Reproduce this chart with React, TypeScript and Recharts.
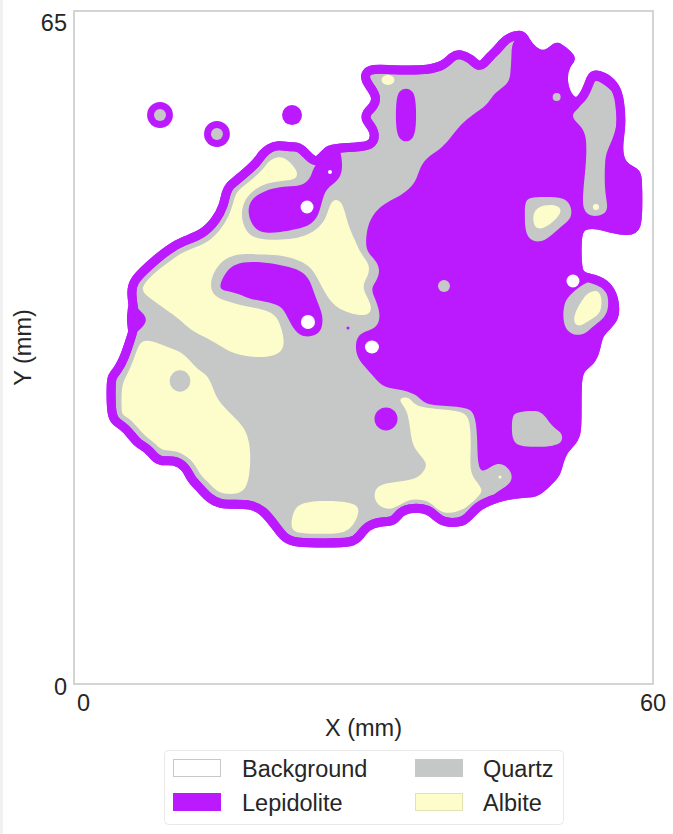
import React from 'react';
import { ScatterChart, Scatter, XAxis, YAxis, ReferenceArea, Legend } from 'recharts';

type Pt = [number, number];
type Blob = { x: number; y: number; rx: number; ry: number };

const FONT = '"Liberation Sans", Arial, Helvetica, sans-serif';
const TEXT = '#262626';
const LEPIDOLITE = '#BB19FE';
const QUARTZ = '#C5C8C7';
const ALBITE = '#FDFDCB';
const BACKGROUND = '#FFFFFF';

const xDomain: [number, number] = [-1, 60];
const yDomain: [number, number] = [0, 66.3];
const xTicks = [0, 60];
const yTicks = [0, 65];
const xLabel = 'X (mm)';
const yLabel = 'Y (mm)';

const legendNames = ['Background', 'Lepidolite', 'Quartz', 'Albite'];
const legendFills = [BACKGROUND, LEPIDOLITE, QUARTZ, ALBITE];
const legendEdges = ['#c8c8c8', LEPIDOLITE, QUARTZ, '#e2e2b5'];

// outer grain boundary (centre line of the lepidolite rim), mm
const grainOutline: Pt[] = [
  [46.0, 64.0], [44.8, 63.7], [44.2, 63.2], [43.6, 62.5], [42.8, 61.8], [42.2, 61.1], [41.6, 60.8], [40.8, 61.6],
  [39.7, 62.1], [38.9, 61.9], [38.0, 60.9], [36.2, 60.5], [34.4, 60.5], [32.6, 60.5], [31.2, 60.6], [30.1, 60.5],
  [29.7, 60.1], [29.7, 59.5], [30.3, 58.7], [30.9, 57.8], [30.6, 56.9], [29.8, 56.3], [29.7, 55.6], [30.3, 55.0],
  [30.8, 54.0], [30.3, 53.0], [28.8, 52.9], [26.7, 52.8], [25.8, 52.6], [25.4, 52.2], [24.6, 51.4], [24.0, 51.7],
  [23.3, 52.4], [22.7, 52.9], [22.0, 52.9], [20.4, 53.1], [19.6, 52.8], [18.9, 52.3], [18.3, 51.4], [17.1, 50.4],
  [16.1, 49.6], [15.4, 49.1], [15.0, 48.4], [14.8, 47.2], [14.0, 45.7], [12.6, 44.3], [10.4, 43.6], [9.1, 42.9],
  [7.6, 41.8], [6.3, 40.7], [5.3, 39.7], [5.0, 38.7], [5.3, 36.8], [5.5, 35.6], [5.0, 34.1], [4.3, 32.1],
  [3.6, 30.9], [3.0, 30.3], [2.9, 29.6], [2.9, 27.0], [3.2, 25.9], [4.2, 25.4], [4.9, 24.7], [5.7, 23.7],
  [6.8, 23.2], [7.5, 22.3], [8.2, 21.9], [9.5, 22.1], [10.8, 21.4], [11.3, 20.2], [12.3, 19.3], [13.2, 18.3],
  [14.4, 17.7], [16.0, 17.7], [17.5, 17.7], [18.9, 17.2], [20.3, 15.5], [21.2, 14.3], [22.5, 13.9], [25.4, 13.9],
  [28.4, 13.9], [29.1, 14.6], [29.9, 15.6], [31.2, 16.0], [32.8, 16.0], [33.3, 17.0], [34.7, 17.4], [36.4, 17.2],
  [37.1, 16.5], [38.0, 15.9], [39.7, 15.9], [40.4, 16.3], [41.5, 17.5], [42.8, 18.1], [44.6, 18.6], [46.3, 18.8],
  [47.6, 18.8], [48.5, 19.5], [49.1, 20.1], [49.8, 20.7], [50.1, 21.9], [50.5, 23.0], [51.6, 24.0], [52.0, 24.8],
  [52.0, 27.3], [52.0, 29.9], [52.3, 31.1], [53.5, 31.8], [54.0, 33.0], [54.2, 34.4], [55.2, 35.3], [55.9, 36.1],
  [56.0, 36.8], [55.9, 37.9], [55.5, 38.8], [54.9, 39.4], [54.3, 39.7], [53.4, 40.0], [52.0, 40.2], [52.0, 42.8],
  [52.0, 45.3], [54.4, 45.3], [55.8, 44.8], [57.3, 44.6], [58.4, 44.8], [58.4, 47.6], [58.4, 50.4], [57.8, 50.5],
  [56.5, 51.3], [56.3, 53.1], [56.7, 55.1], [56.5, 57.5], [56.1, 58.8], [55.0, 59.8], [53.8, 60.1], [53.5, 59.8],
  [53.0, 58.4], [52.1, 57.1], [51.0, 57.7], [50.4, 59.5], [50.8, 61.1], [51.5, 61.6], [50.9, 62.1], [50.0, 62.8],
  [49.7, 62.7], [48.9, 62.0], [47.9, 62.0], [46.9, 62.8], [46.4, 63.7],
];

// large lepidolite domain on the east side
const lepidoliteMain: Pt[] = [
  [45.1, 61.8], [45.0, 60.5], [44.9, 59.3], [43.9, 58.6], [43.1, 58.0], [42.5, 57.0], [41.0, 56.1], [39.7, 55.1],
  [38.6, 53.7], [37.6, 52.7], [36.5, 52.1], [35.5, 51.1], [35.1, 49.7], [34.4, 48.8], [33.0, 47.9], [31.6, 47.3],
  [30.4, 46.2], [29.8, 44.7], [29.7, 42.8], [30.4, 42.1], [31.1, 41.3], [31.2, 40.4], [30.7, 39.5], [30.3, 38.9],
  [30.7, 38.0], [31.2, 36.8], [31.2, 35.6], [30.5, 34.9], [29.1, 34.6], [28.6, 33.6], [28.8, 32.1], [29.9, 31.0],
  [31.0, 29.8], [31.7, 29.2], [33.7, 29.0], [35.1, 28.5], [35.7, 27.8], [36.8, 27.4], [40.4, 27.3], [41.2, 26.7],
  [41.5, 24.7], [41.5, 21.4], [42.1, 20.8], [43.1, 21.6], [44.2, 21.8], [45.2, 20.8], [45.1, 19.8], [43.9, 19.1],
  [42.8, 18.4], [44.6, 18.6], [46.3, 18.8], [47.6, 18.8], [48.5, 19.5], [49.1, 20.1], [49.8, 20.7], [50.1, 21.9],
  [50.5, 23.0], [51.6, 24.0], [52.0, 24.8], [52.0, 27.3], [52.0, 29.9], [52.3, 31.1], [53.5, 31.8], [54.0, 33.0],
  [54.2, 34.4], [55.2, 35.3], [55.9, 36.1], [56.0, 36.8], [55.9, 37.9], [55.5, 38.8], [54.9, 39.4], [54.3, 39.7],
  [53.4, 40.0], [52.0, 40.2], [52.0, 42.8], [52.0, 45.3], [54.4, 45.3], [55.8, 44.8], [57.3, 44.6], [58.4, 44.8],
  [58.4, 47.6], [58.4, 50.4], [57.8, 50.5], [56.5, 51.3], [56.3, 53.1], [56.7, 55.1], [56.5, 57.5], [56.1, 58.8],
  [55.0, 59.8], [53.8, 60.1], [53.5, 59.8], [53.0, 58.4], [52.1, 57.1], [51.0, 57.7], [50.4, 59.5], [50.8, 61.1],
  [51.5, 61.6], [50.9, 62.1], [50.0, 62.8], [49.7, 62.7], [48.9, 62.0], [47.9, 62.0], [46.9, 62.8], [46.4, 63.7],
  [46.0, 64.0], [45.1, 63.2],
];

const lepidoliteUpper: Pt[] = [
  [24.3, 51.1], [25.1, 51.6], [25.8, 52.6], [27.0, 52.9], [27.2, 51.8], [27.3, 50.6], [26.8, 49.5], [25.5, 48.8],
  [25.1, 47.4], [24.7, 46.0], [23.9, 45.2], [22.5, 44.8], [20.7, 44.5], [19.1, 44.4], [18.1, 44.8], [17.5, 45.7],
  [17.3, 46.9], [17.8, 47.9], [19.1, 48.6], [20.7, 49.0], [22.3, 49.0], [23.4, 49.3], [24.0, 50.0],
];

const lepidoliteMiddle: Pt[] = [
  [14.2, 38.9], [14.7, 40.1], [15.4, 41.1], [16.8, 41.6], [18.6, 41.6], [20.7, 41.3], [22.6, 40.9], [23.7, 40.1],
  [24.2, 38.8], [24.7, 37.5], [25.2, 36.4], [25.2, 35.2], [24.7, 34.4], [23.3, 34.1], [22.3, 34.7], [21.5, 36.1],
  [20.9, 37.3], [19.1, 37.7], [17.5, 37.9], [16.5, 38.4], [15.2, 38.7],
];

const lepidoliteBulge: Pt[] = [
  [4.8, 38.0], [5.5, 37.2], [6.3, 36.5], [6.7, 35.9], [6.3, 35.2], [5.4, 34.5], [4.7, 34.3], [4.5, 36.1],
];

const lepidoliteCapsule: Pt[] = [
  [33.98, 58.75], [34.75, 58.45], [35.05, 57.3], [35.05, 54.8], [34.75, 53.7], [33.98, 53.35], [33.2, 53.7],
  [32.9, 54.8], [32.9, 57.3], [33.2, 58.45],
];

const quartzNorthEast: Pt[] = [
  [54.1, 59.5], [54.9, 59.0], [56.0, 58.2], [56.3, 57.2], [56.2, 54.9], [55.7, 53.6], [55.2, 52.6], [54.9, 51.6],
  [54.9, 48.4], [55.3, 47.0], [54.9, 46.2], [53.4, 46.0], [52.6, 46.7], [52.6, 48.4], [53.0, 51.6], [53.0, 53.9],
  [52.5, 54.9], [51.6, 55.6], [51.5, 56.2], [52.1, 56.6], [53.0, 57.8], [53.4, 58.8], [53.7, 59.3],
];

const quartzEast: Pt[] = [
  [46.5, 47.7], [47.4, 48.0], [49.9, 48.0], [51.0, 47.7], [51.5, 46.7], [51.3, 45.7], [50.2, 45.0], [49.1, 44.0],
  [48.1, 43.5], [47.0, 43.7], [46.5, 44.7], [46.5, 46.4],
];

const quartzSouthEast: Pt[] = [
  [50.9, 38.0], [51.8, 38.8], [52.8, 39.5], [54.2, 39.9], [54.9, 39.3], [55.3, 38.1], [55.3, 36.8], [54.7, 35.9],
  [53.6, 35.2], [52.9, 34.5], [51.9, 34.3], [50.8, 34.8], [50.5, 36.1], [50.6, 37.2],
];

const quartzSouth: Pt[] = [
  [45.7, 26.8], [47.8, 27.0], [48.6, 26.5], [49.4, 25.3], [50.4, 24.8], [50.5, 24.0], [49.9, 23.4], [46.3, 23.3],
  [45.2, 23.8], [45.1, 25.3], [45.2, 26.5],
];

const albiteWest: Pt[] = [
  [21.1, 51.9], [22.0, 51.2], [22.6, 50.4], [22.4, 49.7], [21.2, 49.6], [19.4, 49.4], [18.1, 48.8], [17.0, 47.8],
  [16.6, 46.5], [16.8, 45.2], [17.5, 44.1], [19.1, 43.7], [21.8, 43.8], [23.3, 44.1], [24.5, 44.7], [25.5, 45.7],
  [25.9, 47.1], [26.4, 47.8], [27.1, 47.6], [27.5, 46.7], [27.8, 45.5], [28.2, 44.5], [28.7, 43.5], [29.2, 42.4],
  [30.2, 41.3], [30.0, 40.2], [29.3, 39.2], [29.9, 38.1], [30.4, 37.1], [30.1, 36.4], [29.2, 36.3], [28.1, 36.5],
  [26.6, 37.1], [25.7, 38.1], [24.9, 39.5], [24.1, 41.0], [22.8, 41.7], [21.2, 42.2], [19.1, 42.3], [17.0, 42.4],
  [15.6, 42.2], [14.6, 41.7], [13.7, 40.6], [13.3, 39.3], [13.7, 38.2], [15.1, 37.7], [17.0, 37.2], [19.1, 36.9],
  [20.4, 36.3], [20.9, 34.9], [21.2, 33.6], [20.8, 32.6], [19.6, 32.2], [17.5, 32.2], [15.7, 32.6], [14.6, 33.2],
  [13.0, 34.1], [11.2, 34.9], [10.2, 35.9], [8.8, 36.8], [7.5, 37.7], [6.4, 38.4], [6.1, 39.1], [7.0, 40.1],
  [8.3, 41.1], [9.7, 42.1], [11.0, 42.8], [13.1, 43.4], [14.7, 45.0], [15.6, 46.7], [15.9, 48.0], [16.3, 48.6],
  [16.9, 49.1], [17.9, 49.8], [19.0, 50.8], [19.6, 51.6], [20.3, 51.9],
];

const albiteSouthWest: Pt[] = [
  [6.1, 33.9], [7.3, 33.8], [8.8, 33.2], [10.2, 32.8], [11.2, 31.9], [12.0, 31.0], [13.0, 30.5], [13.6, 29.3],
  [14.1, 28.0], [15.1, 27.0], [16.2, 26.0], [17.1, 25.0], [17.5, 23.7], [17.6, 22.2], [17.5, 20.8], [17.2, 19.3],
  [16.3, 18.7], [14.7, 18.7], [13.9, 19.1], [13.0, 20.0], [12.2, 20.7], [11.5, 22.1], [9.7, 23.1], [8.3, 22.9],
  [7.5, 23.8], [6.5, 24.4], [5.6, 25.4], [4.8, 26.2], [4.1, 26.5], [4.0, 27.0], [4.0, 29.5], [4.5, 30.3],
  [5.2, 31.7], [5.6, 32.9],
];

const albiteSouth: Pt[] = [
  [22.5, 17.8], [25.2, 18.1], [28.4, 17.9], [29.1, 17.3], [28.8, 16.2], [27.8, 14.8], [25.1, 14.8], [22.5, 14.8],
  [21.8, 15.4], [22.0, 16.6],
];

const albiteSouthCentral: Pt[] = [
  [33.3, 28.2], [34.4, 28.3], [34.9, 27.3], [37.3, 27.1], [39.7, 26.9], [40.6, 26.4], [40.8, 24.7], [40.8, 22.9],
  [40.7, 21.1], [41.2, 20.1], [42.2, 19.1], [41.5, 18.4], [40.3, 17.3], [38.9, 16.8], [37.6, 16.9], [36.8, 17.7],
  [35.8, 18.2], [34.1, 18.2], [32.6, 17.1], [31.2, 17.4], [30.5, 18.4], [30.9, 19.6], [32.6, 19.9], [35.1, 20.1],
  [36.0, 21.1], [36.2, 21.8], [35.2, 22.8], [34.6, 23.7], [34.4, 25.3], [34.1, 27.0], [33.4, 27.7],
];

const albiteEast: Pt[] = [
  [47.7, 47.1], [49.9, 47.3], [50.5, 46.6], [49.6, 45.6], [48.4, 44.8], [47.5, 44.9], [47.3, 46.0],
];

const albiteSouthEast: Pt[] = [
  [53.1, 38.5], [54.1, 38.9], [54.6, 38.2], [54.6, 37.0], [54.2, 36.3], [53.4, 35.9], [52.5, 35.3], [51.8, 35.3],
  [51.6, 36.1], [52.1, 37.2], [52.7, 38.0],
];

// small rounded grains: centre and radii in mm
const lepidoliteDots: Blob[] = [
  { x: 8.06, y: 56.05, rx: 1.36, ry: 1.28 },
  { x: 14.06, y: 54.18, rx: 1.36, ry: 1.28 },
  { x: 21.97, y: 56.05, rx: 1.05, ry: 0.99 },
  { x: 31.87, y: 26.11, rx: 1.21, ry: 1.13 },
  { x: 27.87, y: 35.07, rx: 0.16, ry: 0.15 },
];
const quartzDots: Blob[] = [
  { x: 8.06, y: 56.05, rx: 0.63, ry: 0.59 },
  { x: 14.06, y: 54.18, rx: 0.63, ry: 0.59 },
  { x: 49.85, y: 57.83, rx: 0.42, ry: 0.39 },
  { x: 37.98, y: 39.21, rx: 0.63, ry: 0.59 },
  { x: 10.17, y: 29.85, rx: 1.1, ry: 1.05 },
];
const albiteDots: Blob[] = [
  { x: 32.08, y: 59.5, rx: 0.68, ry: 0.49 },
  { x: 53.99, y: 46.99, rx: 0.32, ry: 0.3 },
  { x: 43.88, y: 20.39, rx: 0.16, ry: 0.15 },
];
const backgroundHoles: Blob[] = [
  { x: 23.55, y: 46.99, rx: 0.68, ry: 0.64 },
  { x: 25.97, y: 50.44, rx: 0.21, ry: 0.2 },
  { x: 23.65, y: 35.66, rx: 0.74, ry: 0.69 },
  { x: 30.39, y: 33.2, rx: 0.74, ry: 0.64 },
  { x: 51.57, y: 39.7, rx: 0.68, ry: 0.64 },
];

type Layer = { name: string; pts: Pt[]; fill: string; stroke?: string; width?: number };

const polygonLayers: Layer[] = [
  { name: 'grain', pts: grainOutline, fill: QUARTZ, stroke: LEPIDOLITE, width: 9 },
  { name: 'lepBulge', pts: lepidoliteBulge, fill: LEPIDOLITE },
  { name: 'lepMain', pts: lepidoliteMain, fill: LEPIDOLITE },
  { name: 'lepUpper', pts: lepidoliteUpper, fill: LEPIDOLITE },
  { name: 'lepMiddle', pts: lepidoliteMiddle, fill: LEPIDOLITE },
  { name: 'lepCapsule', pts: lepidoliteCapsule, fill: LEPIDOLITE },
  { name: 'qzNE', pts: quartzNorthEast, fill: QUARTZ },
  { name: 'qzE', pts: quartzEast, fill: QUARTZ },
  { name: 'qzSE', pts: quartzSouthEast, fill: QUARTZ },
  { name: 'qzS', pts: quartzSouth, fill: QUARTZ },
  { name: 'abW', pts: albiteWest, fill: ALBITE },
  { name: 'abSW', pts: albiteSouthWest, fill: ALBITE },
  { name: 'abS', pts: albiteSouth, fill: ALBITE },
  { name: 'abSC', pts: albiteSouthCentral, fill: ALBITE },
  { name: 'abE', pts: albiteEast, fill: ALBITE },
  { name: 'abSE', pts: albiteSouthEast, fill: ALBITE },
  { name: 'grainEdge', pts: grainOutline, fill: 'none', stroke: LEPIDOLITE, width: 9 },
];

const blobLayers: { name: string; blobs: Blob[]; fill: string }[] = [
  { name: 'lepDot', blobs: lepidoliteDots, fill: LEPIDOLITE },
  { name: 'qzDot', blobs: quartzDots, fill: QUARTZ },
  { name: 'abDot', blobs: albiteDots, fill: ALBITE },
  { name: 'hole', blobs: backgroundHoles, fill: BACKGROUND },
];

const toPoints = (pts: Pt[]) => pts.map(([x, y]) => ({ x, y }));
const blobBox = (b: Blob) => [
  { x: b.x - b.rx, y: b.y - b.ry },
  { x: b.x + b.rx, y: b.y + b.ry },
];
const noSymbol = () => <g />;

const ellipseLine = (color: string) => (props: any) => {
  const pts = (props && props.points) || [];
  if (pts.length < 2) return <g />;
  const a = pts[0];
  const b = pts[1];
  return (
    <ellipse
      cx={(a.x + b.x) / 2}
      cy={(a.y + b.y) / 2}
      rx={Math.abs(b.x - a.x) / 2}
      ry={Math.abs(b.y - a.y) / 2}
      fill={color}
      stroke="none"
    />
  );
};

const renderXTick = (props: any) => {
  const { x, y, payload } = props;
  return (
    <text x={x} y={y + 27} textAnchor="middle" fontSize={23.5} fontFamily={FONT} fill={TEXT}>
      {payload.value}
    </text>
  );
};

const renderYTick = (props: any) => {
  const { x, y, payload } = props;
  const dy = payload.value === 0 ? 11 : 6.5;
  return (
    <text x={x - 7} y={y + dy} textAnchor="end" fontSize={23.5} fontFamily={FONT} fill={TEXT}>
      {payload.value}
    </text>
  );
};

const renderXLabel = (props: any) => {
  const vb = (props && props.viewBox) || { x: 74, y: 684, width: 579, height: 40 };
  return (
    <text x={vb.x + vb.width / 2} y={vb.y + 52} textAnchor="middle" fontSize={23.5} fontFamily={FONT} fill={TEXT}>
      {xLabel}
    </text>
  );
};

const renderYLabel = (props: any) => {
  const vb = (props && props.viewBox) || { x: 0, y: 11, width: 74, height: 673 };
  const cx = vb.x + 31;
  const cy = vb.y + vb.height / 2;
  return (
    <text x={cx} y={cy} transform={`rotate(-90 ${cx} ${cy})`} textAnchor="middle" fontSize={23.5} fontFamily={FONT} fill={TEXT}>
      {yLabel}
    </text>
  );
};

const renderLegend = () => (
  <svg width={400} height={75} style={{ display: 'block', overflow: 'visible' }}>
    <rect x={0.5} y={0.5} width={399} height={74} rx={4} ry={4} fill="#ffffff" stroke="#e9e9e9" strokeWidth={1} />
    {legendNames.map((name, i) => {
      const col = Math.floor(i / 2);
      const row = i % 2;
      const sx = col === 0 ? 9 : 251;
      const tx = col === 0 ? 78 : 319;
      const sy = row === 0 ? 9 : 43;
      return (
        <g key={name}>
          <rect x={sx + 0.5} y={sy + 0.5} width={47} height={17} fill={legendFills[i]} stroke={legendEdges[i]} strokeWidth={1} />
          <text x={tx} y={sy + 18} fontSize={23.5} fontFamily={FONT} fill={TEXT}>
            {name}
          </text>
        </g>
      );
    })}
  </svg>
);

export default function App() {
  return (
    <div style={{ position: 'absolute', left: 0, top: 0, width: 673, height: 834, background: '#ffffff' }}>
      <div style={{ position: 'absolute', left: 0, top: 0, width: 3, height: 834, background: '#f1f1f1' }} />
      <ScatterChart width={673} height={834} margin={{ top: 11, right: 20, bottom: 110, left: 0 }}>
        <XAxis
          type="number"
          dataKey="x"
          domain={xDomain}
          ticks={xTicks}
          allowDataOverflow
          interval={0}
          tickLine={false}
          axisLine={false}
          tickSize={0}
          tickMargin={0}
          height={40}
          tick={renderXTick}
          label={renderXLabel}
        />
        <YAxis
          type="number"
          dataKey="y"
          domain={yDomain}
          ticks={yTicks}
          allowDataOverflow
          interval={0}
          tickLine={false}
          axisLine={false}
          tickSize={0}
          tickMargin={0}
          width={74}
          tick={renderYTick}
          label={renderYLabel}
        />
        {polygonLayers.map((l) => (
          <Scatter
            key={l.name}
            name={l.name}
            data={toPoints(l.pts)}
            isAnimationActive={false}
            shape={noSymbol}
            legendType="none"
            lineType="joint"
            lineJointType="basisClosed"
            line={{
              fill: l.fill,
              stroke: l.stroke || 'none',
              strokeWidth: l.width || 0,
              strokeLinejoin: 'round',
            }}
          />
        ))}
        {blobLayers.map((layer) =>
          layer.blobs.map((b, i) => (
            <Scatter
              key={`${layer.name}-${i}`}
              name={`${layer.name}-${i}`}
              data={blobBox(b)}
              isAnimationActive={false}
              shape={noSymbol}
              legendType="none"
              lineType="joint"
              line={ellipseLine(layer.fill)}
            />
          ))
        )}
        <ReferenceArea
          x1={xDomain[0]}
          x2={xDomain[1]}
          y1={yDomain[0]}
          y2={yDomain[1]}
          fill="none"
          fillOpacity={0}
          stroke="#d4d4d4"
          strokeWidth={2}
          ifOverflow="visible"
        />
        <Legend
          layout="vertical"
          align="center"
          verticalAlign="middle"
          wrapperStyle={{ left: 164, top: 750, width: 400, height: 75 }}
          content={renderLegend}
        />
      </ScatterChart>
    </div>
  );
}
